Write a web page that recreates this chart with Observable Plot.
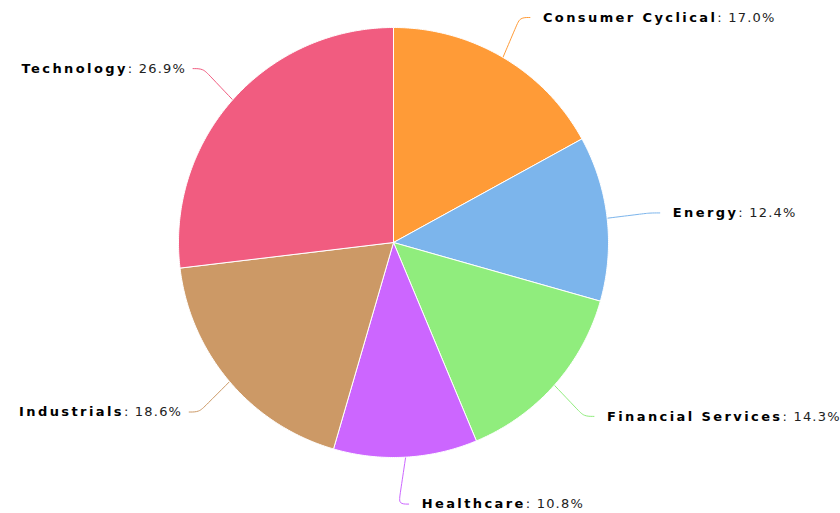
<!DOCTYPE html>
<html><head><meta charset="utf-8">
<script src="https://cdn.jsdelivr.net/npm/d3@7"></script>
<script src="https://cdn.jsdelivr.net/npm/@observablehq/plot@0.6"></script>
<style>body{margin:0;background:#fff} svg{display:block}</style>
</head><body><div id="chart"></div>
<script>
const categories = ["Consumer Cyclical","Energy","Financial Services","Healthcare","Industrials","Technology"];
const shares = [17.0, 12.4, 14.3, 10.8, 18.6, 26.9];
const colors = ["#ff9b37","#7cb5ec","#90ed7d","#cc66ff","#cc9966","#f15c80"];

const total = d3.sum(shares);
let acc = 0;
const slices = categories.map((c, i) => {
  const a0 = acc / total * 2 * Math.PI; acc += shares[i];
  const a1 = acc / total * 2 * Math.PI;
  return {category: c, share: shares[i], a0, a1, mid: (a0 + a1) / 2};
});

const RPX = 215, CY = 242;
const wedgePts = slices.flatMap(s => {
  const n = Math.max(2, Math.ceil((s.a1 - s.a0) / (Math.PI / 360)));
  const pts = [{category: s.category, x: 0, y: 0}];
  for (let k = 0; k <= n; k++) {
    const a = s.a0 + (s.a1 - s.a0) * k / n;
    pts.push({category: s.category, x: Math.sin(a), y: Math.cos(a)});
  }
  pts.push({category: s.category, x: 0, y: 0});
  return pts;
});

const rx = 268 / RPX, ry = 262 / RPX;
const yMax = (CY - 17) / RPX, yMin = -(505 - CY) / RPX;
const labels = slices.map(s => {
  const side = Math.sin(s.mid) >= 0 ? 1 : -1;
  const lx = rx * Math.sin(s.mid);
  const ly = Math.max(yMin, Math.min(yMax, ry * Math.cos(s.mid)));
  return {...s, side, lx, ly, label: s.category + "|: " + s.share.toFixed(1) + "%"};
});
const connectorPts = labels.flatMap(l => {
  const ex = Math.sin(l.mid), ey = Math.cos(l.mid);
  const cx = l.lx - l.side * 10 / RPX, cy = l.ly;
  return [
    {category: l.category, x: ex, y: ey},
    {category: l.category, x: ex + 0.8 * (cx - ex), y: ey + 0.8 * (cy - ey)},
    {category: l.category, x: cx, y: cy},
    {category: l.category, x: l.lx, y: l.ly}
  ];
});

const svg = Plot.plot({
  width: 840, height: 513,
  marginLeft: 178, marginRight: 232, marginTop: 27, marginBottom: 56,
  style: {fontFamily: "DejaVu Sans", fontSize: "13px", background: "#fff"},
  x: {domain: [-1, 1], axis: null},
  y: {domain: [-1, 1], axis: null},
  color: {domain: categories, range: colors},
  marks: [
    Plot.line(connectorPts, {x: "x", y: "y", z: "category", stroke: "category", strokeWidth: 1, curve: "basis"}),
    Plot.line(wedgePts, {x: "x", y: "y", z: "category", fill: "category", stroke: "white", strokeWidth: 1, curve: "linear"}),
    Plot.text(labels.filter(l => l.side > 0), {x: "lx", y: "ly", text: "label", textAnchor: "start", dx: 13, fill: "#000", fontSize: 13}),
    Plot.text(labels.filter(l => l.side < 0), {x: "lx", y: "ly", text: "label", textAnchor: "end", dx: -7, fill: "#000", fontSize: 13})
  ]
});

d3.select(svg).selectAll('g[aria-label="text"] text').each(function() {
  const parts = this.textContent.split("|");
  const t = d3.select(this);
  t.text(null);
  t.append("tspan").attr("font-weight", "bold").attr("letter-spacing", "2.4px").attr("fill", "#000").text(parts[0]);
  t.append("tspan").attr("letter-spacing", "1.2px").attr("fill", "#222").text(parts[1]);
});

document.getElementById("chart").appendChild(svg);
</script>
</body></html>
